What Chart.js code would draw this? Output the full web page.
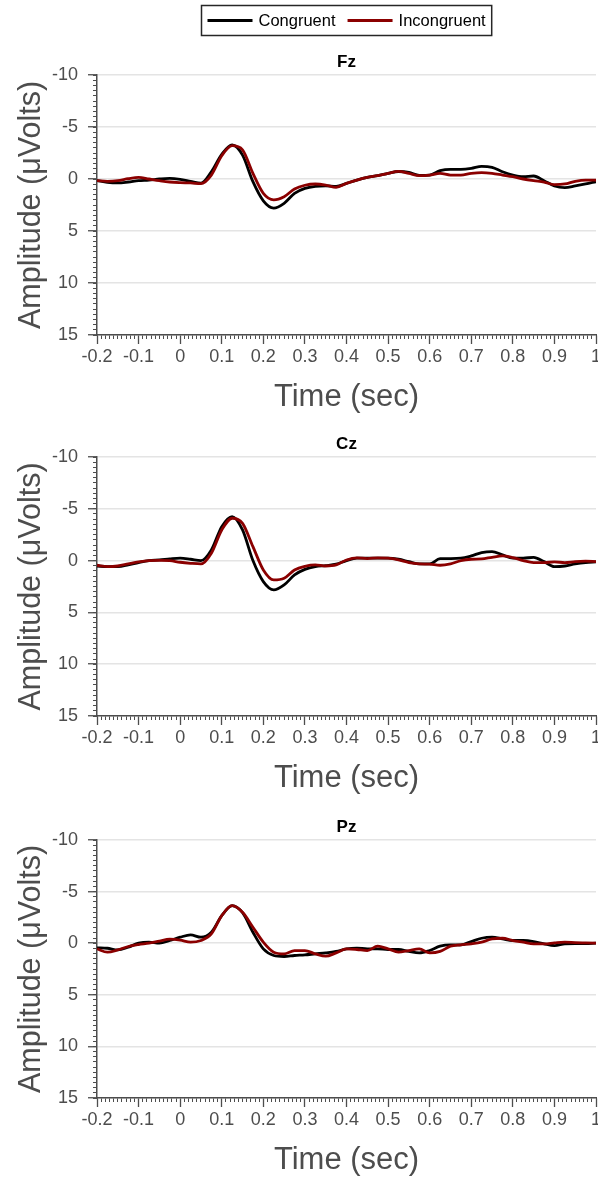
<!DOCTYPE html>
<html>
<head>
<meta charset="utf-8">
<script src="https://cdn.jsdelivr.net/npm/chart.js@4.4.1/dist/chart.umd.min.js"></script>
<style>
  body { margin: 0; background: #fff; }
  canvas { position: absolute; left: 0; }
</style>
</head>
<body>
<canvas id="fz" width="598" height="418" style="top:0px"></canvas>
<canvas id="cz" width="598" height="381" style="top:418px"></canvas>
<canvas id="pz" width="598" height="382" style="top:799px"></canvas>
<script>
// time axis (sec), one sample every 25 ms
let time = [-0.2, -0.175, -0.15, -0.125, -0.1, -0.075, -0.05, -0.025, 0, 0.025, 0.05, 0.075,
  0.1, 0.125, 0.15, 0.175, 0.2, 0.225, 0.25, 0.275, 0.3, 0.325, 0.35, 0.375,
  0.4, 0.425, 0.45, 0.475, 0.5, 0.525, 0.55, 0.575, 0.6, 0.625, 0.65, 0.675,
  0.7, 0.725, 0.75, 0.775, 0.8, 0.825, 0.85, 0.875, 0.9, 0.925, 0.95, 0.975, 1];

let seriesNames = ['Congruent', 'Incongruent'];
let seriesColors = ['#000000', '#8b0000'];
let xTicks = [-0.2, -0.1, 0, 0.1, 0.2, 0.3, 0.4, 0.5, 0.6, 0.7, 0.8, 0.9, 1];
let yTicks = [-10, -5, 0, 5, 10, 15];

// amplitudes in microvolts (axis is drawn negative-up)
let fzCongruent = [0.15, 0.32, 0.38, 0.29, 0.16, 0.1, 0, -0.06, 0.03, 0.22, 0.4, -0.7,
  -2.37, -3.27, -2.3, 0.26, 2.1, 2.8, 2.34, 1.38, 0.9, 0.7, 0.65, 0.72,
  0.42, 0.1, -0.16, -0.32, -0.54, -0.72, -0.64, -0.35, -0.38, -0.8, -0.93, -0.93,
  -1.02, -1.22, -1.12, -0.7, -0.38, -0.22, -0.29, 0.16, 0.67, 0.83, 0.67, 0.48, 0.26];
let fzIncongruent = [0.16, 0.22, 0.16, -0.03, -0.16, 0, 0.16, 0.29, 0.35, 0.38, 0.45, -0.38,
  -2.24, -3.2, -2.8, -0.54, 1.38, 2.0, 1.7, 0.96, 0.6, 0.48, 0.58, 0.8,
  0.42, 0.1, -0.16, -0.32, -0.54, -0.74, -0.54, -0.32, -0.38, -0.54, -0.38, -0.38,
  -0.54, -0.61, -0.54, -0.38, -0.22, 0, 0.16, 0.29, 0.54, 0.48, 0.22, 0.1, 0.1];

let czCongruent = [0.52, 0.58, 0.58, 0.42, 0.19, 0, -0.06, -0.16, -0.23, -0.13, 0, -1.03,
  -3.28, -4.25, -2.96, 0, 2.03, 2.83, 2.35, 1.38, 0.85, 0.58, 0.48, 0.35,
  0, -0.23, -0.23, -0.23, -0.23, -0.13, 0.1, 0.32, 0.32, -0.19, -0.2, -0.23,
  -0.45, -0.77, -0.87, -0.55, -0.23, -0.23, -0.32, 0.1, 0.58, 0.52, 0.32, 0.19, 0.13];
let czIncongruent = [0.45, 0.58, 0.52, 0.32, 0.13, 0, -0.03, 0, 0.16, 0.26, 0.32, -0.71,
  -2.96, -4.09, -3.6, -1.35, 0.9, 1.86, 1.7, 0.9, 0.55, 0.42, 0.52, 0.42,
  -0.06, -0.26, -0.2, -0.26, -0.23, -0.06, 0.19, 0.32, 0.35, 0.45, 0.32, 0,
  -0.13, -0.16, -0.32, -0.45, -0.29, 0, 0.19, 0.19, 0.13, 0.19, 0.1, 0.06, 0.1];

let pzCongruent = [0.45, 0.49, 0.65, 0.39, 0, -0.1, 0, -0.26, -0.58, -0.8, -0.58, -1.06,
  -2.67, -3.64, -2.95, -1.06, 0.55, 1.19, 1.29, 1.19, 1.13, 1.03, 0.94, 0.8,
  0.55, 0.48, 0.55, 0.55, 0.61, 0.61, 0.8, 0.94, 0.71, 0.29, 0.16, 0.16,
  -0.16, -0.48, -0.58, -0.42, -0.26, -0.26, -0.16, 0.06, 0.23, 0.06, 0.03, 0.03, 0];
let pzIncongruent = [0.55, 0.87, 0.65, 0.32, 0.13, 0, -0.2, -0.39, -0.3, -0.1, -0.26, -0.9,
  -2.67, -3.64, -3.0, -1.55, -0.1, 0.87, 1.03, 0.71, 0.71, 1.03, 1.26, 0.94,
  0.55, 0.61, 0.71, 0.29, 0.55, 0.87, 0.71, 0.55, 0.94, 0.8, 0.29, 0.16,
  0.06, -0.1, -0.42, -0.48, -0.26, -0.1, 0.06, 0.06, -0.03, -0.1, -0.06, -0.03, 0];

const FONT = "'Liberation Sans', Arial, Helvetica, sans-serif";
const TEXT = '#4d4d4d';
const AXIS = '#4d4d4d';
const GRID = '#e4e4e4';

function fmt(v) { return String(Math.round(v * 100) / 100); }
function fixWidth(w) { return s => { s.width = w; s.paddingTop = 0; s.paddingBottom = 0; }; }
function fixHeight(h) { return s => { s.height = h; s.paddingLeft = 0; s.paddingRight = 0; }; }

// legend with a box round it, drawn above the first panel
const legendBox = {
  id: 'legendBox',
  afterDraw(chart) {
    const ctx = chart.ctx;
    ctx.save();
    ctx.font = '16.5px ' + FONT;
    const pad = 6, line = 45, gap = 6, between = 12;
    const widths = seriesNames.map(n => ctx.measureText(n).width);
    const total = pad * 2 + widths.reduce((a, w) => a + line + gap + w, 0) + between;
    const cx = (chart.chartArea.left + chart.chartArea.right) / 2;
    const x0 = Math.round(cx - total / 2) + 0.5, y0 = 5.5, h = 30;
    ctx.fillStyle = '#fff';
    ctx.fillRect(x0, y0, total, h);
    ctx.strokeStyle = '#262626';
    ctx.lineWidth = 1.5;
    ctx.strokeRect(x0, y0, total, h);
    let x = x0 + pad;
    const ym = y0 + h / 2;
    seriesNames.forEach((name, i) => {
      ctx.strokeStyle = seriesColors[i];
      ctx.lineWidth = 2.8;
      ctx.beginPath();
      ctx.moveTo(x, ym);
      ctx.lineTo(x + line, ym);
      ctx.stroke();
      x += line + gap;
      ctx.fillStyle = '#000';
      ctx.textBaseline = 'middle';
      ctx.fillText(name, x, ym + 1);
      x += widths[i] + between;
    });
    ctx.restore();
  }
};

function makePanel(id, name, cong, incong, padTop, withLegend) {
  const sets = [cong, incong].map((vals, i) => ({
    label: seriesNames[i],
    data: time.map((t, k) => ({ x: t, y: vals[k] })),
    borderColor: seriesColors[i],
    backgroundColor: seriesColors[i],
    borderWidth: 2.8,
    pointRadius: 0,
    cubicInterpolationMode: 'monotone',
    order: 1 - i
  }));
  return new Chart(document.getElementById(id), {
    type: 'line',
    data: { datasets: sets },
    plugins: withLegend ? [legendBox] : [],
    options: {
      responsive: false,
      animation: false,
      layout: { padding: { top: padTop, bottom: 2.4, left: 0, right: 2 } },
      plugins: {
        legend: { display: false },
        tooltip: { enabled: false },
        title: { display: false }
      },
      scales: {
        // panel name, centred over the plot area
        xTop: {
          type: 'linear', position: 'top', min: -0.2, max: 1,
          ticks: { display: false },
          grid: { display: false },
          border: { display: false },
          title: { display: true, text: name, color: '#000',
                   font: { family: FONT, size: 17, weight: 'bold' }, padding: 0 },
          afterFit: fixHeight(23)
        },
        x: {
          type: 'linear', position: 'bottom', min: -0.2, max: 1, weight: 1,
          afterBuildTicks: s => { s.ticks = xTicks.map(v => ({ value: v })); },
          ticks: { autoSkip: false, maxRotation: 0, padding: 2.2, color: TEXT,
                   font: { family: FONT, size: 18 }, callback: fmt },
          grid: { drawOnChartArea: false, tickLength: 9, tickColor: AXIS, tickWidth: 1.3 },
          border: { color: AXIS, width: 1.5 },
          title: { display: true, text: 'Time (sec)', color: TEXT,
                   font: { family: FONT, size: 31 }, padding: 0 },
          afterFit: fixHeight(80.6)
        },
        xMinor: {
          type: 'linear', position: 'bottom', min: -0.2, max: 1, weight: 0,
          ticks: { display: false, stepSize: 0.01 },
          grid: { drawOnChartArea: false, tickLength: 4, tickColor: AXIS, tickWidth: 1 },
          border: { display: false },
          afterFit: fixHeight(0)
        },
        y: {
          type: 'linear', position: 'left', reverse: true, min: -10, max: 15, weight: 1,
          afterBuildTicks: s => { s.ticks = yTicks.map(v => ({ value: v })); },
          ticks: { padding: 10, color: TEXT, font: { family: FONT, size: 18 }, callback: fmt },
          grid: { color: GRID, lineWidth: 1.5, tickLength: 9, tickColor: AXIS, tickWidth: 1.3 },
          border: { color: AXIS, width: 1.5 },
          title: { display: true, text: 'Amplitude (μVolts)', color: TEXT,
                   font: { family: FONT, size: 30.5 }, padding: { top: 13, bottom: 0 } },
          afterFit: fixWidth(97)
        },
        yMinor: {
          type: 'linear', position: 'left', reverse: true, min: -10, max: 15, weight: 0,
          ticks: { display: false, stepSize: 0.5 },
          grid: { drawOnChartArea: false, tickLength: 4, tickColor: AXIS, tickWidth: 1 },
          border: { display: false },
          afterFit: fixWidth(0)
        }
      }
    }
  });
}

makePanel('fz', 'Fz', fzCongruent, fzIncongruent, 52, true);
makePanel('cz', 'Cz', czCongruent, czIncongruent, 16, false);
makePanel('pz', 'Pz', pzCongruent, pzIncongruent, 18, false);
</script>
</body>
</html>
